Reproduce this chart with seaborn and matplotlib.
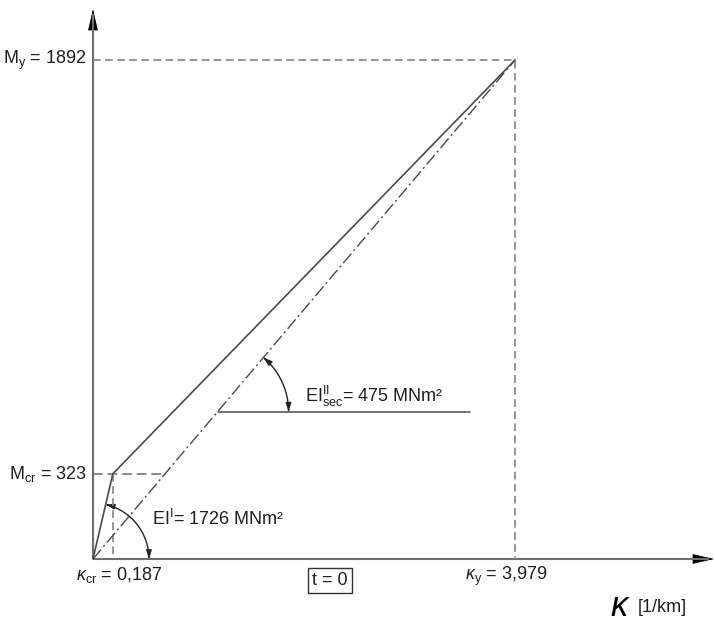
import numpy as np
import matplotlib
matplotlib.use("Agg")
import matplotlib.pyplot as plt
import seaborn as sns
from matplotlib.patches import FancyArrowPatch
from matplotlib.path import Path

# Moment-curvature relation (state t = 0)
kappa = [0.0, 0.187, 3.979]          # curvature [1/km]
moment = [0.0, 323.0, 1892.0]        # bending moment
EI_I = 1726                          # uncracked stiffness [MNm²]
EI_sec = 475                         # secant stiffness at yield [MNm²]
kappa_labels = ["0,187", "3,979"]
moment_labels = ["323", "1892"]

sns.set_theme(style="white")
plt.rcParams["font.family"] = ["Liberation Sans", "DejaVu Sans"]
plt.rcParams["mathtext.fontset"] = "custom"
plt.rcParams["mathtext.rm"] = "Liberation Sans"
plt.rcParams["mathtext.it"] = "Liberation Sans:italic"
plt.rcParams["lines.scale_dashes"] = False

W, H = 715, 628
fig = plt.figure(figsize=(W / 100, H / 100), dpi=100)
ax = fig.add_axes([0, 0, 1, 1])

# pixel frame: origin and scale of the diagram
OX, OY = 93, 559
SX = 422 / kappa[2]      # px per 1/km
SY = 499 / moment[2]     # px per moment unit
ax.set_xlim(-OX / SX, (W - OX) / SX)
ax.set_ylim(-(H - OY) / SY, OY / SY)
ax.axis("off")


def pix(x, y):
    """pixel position (from top-left) -> data coordinates"""
    return (x - OX) / SX, (OY - y) / SY


LINE = "#4a4a4a"
GUIDE = "#8c8c8c"
TXT = "#1e1e1e"
FS = 13

# axes with arrow heads
x_tip = pix(714, OY)[0]
y_tip = pix(OX, 9)[1]
ax.plot([0, x_tip - 5 / SX], [0, 0], color="#6e6e6e", lw=1.5, solid_capstyle="butt")
ax.plot([0, 0], [0, y_tip - 5 / SY], color="#6e6e6e", lw=1.5, solid_capstyle="butt")
for start, end in [((x_tip - 19 / SX, 0), (x_tip, 0)), ((0, y_tip - 22 / SY), (0, y_tip))]:
    ax.add_patch(FancyArrowPatch(start, end, arrowstyle="-|>,head_length=14,head_width=3.2",
                                 mutation_scale=1, color="black", lw=0.5,
                                 shrinkA=0, shrinkB=0))

# guide lines to the characteristic points
dash = (0, (5.5, 3.2))
ax.plot([0, kappa[2], kappa[2]], [moment[2], moment[2], 0], color=GUIDE, lw=1.3, linestyle=dash)
m_cr_end = moment[1] / moment[2] * kappa[2]
ax.plot([0, m_cr_end], [moment[1], moment[1]], color="#6a6a6a", lw=1.1, linestyle=(0, (7, 3.5)))
ax.plot([kappa[1], kappa[1]], [moment[1], 0], color=GUIDE, lw=1.3, linestyle=dash)

# bilinear moment-curvature curve
sns.lineplot(x=kappa, y=moment, sort=False, estimator=None, color=LINE, lw=1.2, ax=ax)
# secant to the yield point
sec = sns.lineplot(x=[kappa[0], kappa[2]], y=[moment[0], moment[2]], sort=False,
                   estimator=None, color=LINE, lw=1.0, ax=ax).lines[-1]
sec.set_linestyle((0, (9, 2.5, 1.5, 2.5)))


def angle_arc(cx, cy, r_px, a1, a2):
    t = np.linspace(a1, a2, 60)
    xs = cx + r_px * np.cos(t) / SX
    ys = cy + r_px * np.sin(t) / SY
    path = Path(np.column_stack([xs, ys]))
    ax.add_patch(FancyArrowPatch(path=path, arrowstyle="<|-|>,head_length=5,head_width=1.6",
                                 mutation_scale=1, color="#222222", lw=1.0))


# angle of EI^I
a_I = np.arctan2(moment[1] * SY, kappa[1] * SX)
angle_arc(0, 0, 56, 0.0, a_I)

# angle of EI_sec with horizontal reference line
m_ref = pix(0, 411.7)[1]
k_ref = m_ref / moment[2] * kappa[2]
ax.plot([k_ref, pix(470, 0)[0]], [m_ref, m_ref], color="#5a5a5a", lw=1.2)
a_sec = np.arctan2(moment[2] * SY, kappa[2] * SX)
angle_arc(k_ref, m_ref, 71, 0.0, a_sec)

# value labels
ax.annotate(r"M$_\mathrm{y}$ = " + moment_labels[1], (0, moment[2]), xytext=(-4.5, 0),
            textcoords="offset points", ha="right", va="center", fontsize=FS, color=TXT)
ax.annotate(r"M$_\mathrm{cr}$ = " + moment_labels[0], (0, moment[1]), xytext=(-4.5, 0),
            textcoords="offset points", ha="right", va="center", fontsize=FS, color=TXT)
ax.annotate(r"$\kappa_\mathrm{cr}$ = " + kappa_labels[0], (kappa[1], 0), xytext=(4.5, -4),
            textcoords="offset points", ha="center", va="top", fontsize=FS, color=TXT)
ax.annotate(r"$\kappa_\mathrm{y}$ = " + kappa_labels[1], (kappa[2], 0), xytext=(-6, -4),
            textcoords="offset points", ha="center", va="top", fontsize=FS, color=TXT)

ax.text(*pix(152, 519), r"EI$^\mathrm{I}$= %d MNm²" % EI_I, ha="left", va="center",
        fontsize=FS, color=TXT)
ax.text(*pix(305, 396), r"EI$^\mathrm{II}_\mathrm{sec}$= %d MNm²" % EI_sec, ha="left",
        va="center", fontsize=FS, color=TXT)

ax.text(*pix(330, 580.5), "t = 0", ha="center", va="center", fontsize=FS, color=TXT,
        bbox=dict(boxstyle="square,pad=0.22", fc="white", ec="#333333", lw=1.0))

ax.text(*pix(620, 606), r"$\kappa$", ha="center", va="center", fontsize=25, color="black")
ax.text(*pix(638, 607), "[1/km]", ha="left", va="center", fontsize=13, color=TXT)

fig.savefig("out.png", dpi=100)
